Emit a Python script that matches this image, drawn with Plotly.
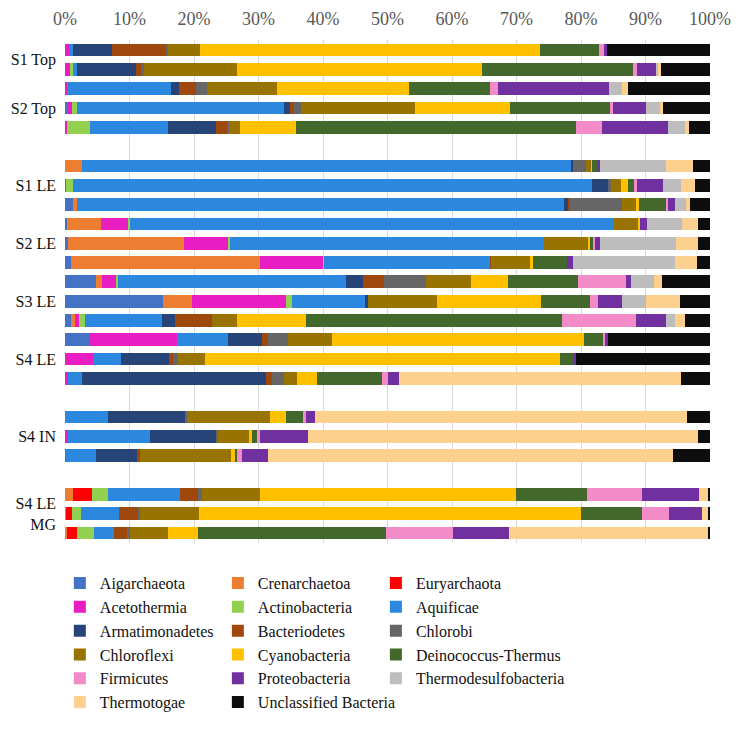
import plotly.graph_objects as go

# ---- data (percent of reads per sample bar, top to bottom) ----
groups = ["S1 Top", "S2 Top", "S1 LE", "S2 LE", "S3 LE", "S4 LE", "S4 IN", "S4 LE<br>MG"]
group_sizes = [2, 3, 3, 3, 3, 3, 3, 3]
gap_after = ["S2 Top", "S4 LE", "S4 IN"]

phyla = ["Aigarchaeota", "Crenarchaetoa", "Euryarchaota", "Acetothermia", "Actinobacteria",
         "Aquificae", "Armatimonadetes", "Bacteriodetes", "Chlorobi", "Chloroflexi",
         "Cyanobacteria", "Deinococcus-Thermus", "Firmicutes", "Proteobacteria",
         "Thermodesulfobacteria", "Thermotogae", "Unclassified Bacteria"]

aigarchaeota = [0, 0, 0, .3, 0, 0, .2, 1.2, .3, .4, .9, 4.8, 15.2, 1.0, 3.9, .2, .3, 0, 0, 0, 0, 0, 0]
crenarchaetoa = [0, 0, 0, 0, 0, 2.6, 0, .6, 5.3, 18.1, 29.4, 1.0, 4.5, .5, 0, 0, 0, 0, 0, 0, 1.3, .2, .3]
euryarchaota = [0, 0, 0, 0, 0, 0, 0, 0, 0, 0, 0, 0, 0, 0, 0, 0, 0, 0, 0, 0, 2.9, .9, 1.6]
acetothermia = [.9, .9, .3, .8, .3, 0, 0, 0, 4.2, 6.9, 9.8, 2.2, 14.6, .6, 13.5, 4.2, .2, 0, .4, .1, 0, 0, 0]
actinobacteria = [0, .3, 0, .7, 3.5, 0, 1.0, 0, .2, .2, .1, .2, .9, 1.0, 0, 0, 0, 0, 0, 0, 2.4, 1.4, 2.6]
aquificae = [.3, .6, 16.2, 32.1, 12.2, 75.9, 80.5, 75.6, 74.9, 48.6, 25.7, 35.3, 11.4, 11.9,
             7.9, 4.3, 2.2, 6.7, 12.7, 4.7, 11.2, 5.9, 3.1]
armatimonadetes = [6.1, 9.2, 1.1, 1.0, 7.4, .3, 2.5, .6, 0, 0, 0, 2.7, .3, 2.1, 5.2, 7.4, 28.5,
                   12.0, 10.4, 6.5, 0, 0, 0]
bacteriodetes = [8.3, .8, 2.7, .6, 1.8, 0, 0, .3, 0, 0, .2, 3.3, 0, 5.7, 1.0, .6, .9, 0, 0, .3, 2.8, 2.9, 2.0]
chlorobi = [.4, .4, 1.7, 1.1, .3, 2.0, .4, 8.1, 0, 0, 0, 6.4, 0, 0, 3.1, .8, 1.8, .2, .2, 0, .6, .4, .4]
chloroflexi = [5.0, 14.5, 10.9, 17.7, 1.7, .8, 1.6, 2.1, 4.0, 7.0, 6.1, 7.1, 10.8, 3.8, 6.8, 4.2, 2.0,
               12.9, 4.9, 14.1, 9.1, 9.1, 5.9]
cyanobacteria = [52.7, 38.0, 20.4, 14.7, 8.6, .1, 1.1, .5, .3, .2, .3, 5.7, 16.1, 10.7, 39.1, 55.1, 3.1,
                 2.5, .4, .7, 39.6, 59.2, 4.7]
deinococcus = [9.1, 23.4, 12.6, 15.5, 43.4, 1.0, .9, 4.3, 0, .6, 5.4, 10.9, 7.6, 39.7, 3.0, 2.2, 10.1,
               2.7, .7, .3, 11.0, 9.5, 29.2]
firmicutes = [.8, .6, 1.2, .5, 4.0, 0, .5, .2, 0, .2, 0, 7.3, 1.3, 11.5, .2, 0, .9, .3, .6, .7, 8.5, 4.1, 10.3]
proteobacteria = [.5, 3.0, 17.3, 5.0, 10.3, .2, 4.0, 1.0, 1.1, .8, .9, .8, 3.7, 4.6, .5, .3, 1.8,
                  1.5, 7.4, 4.1, 8.9, 5.1, 8.7]
thermodesulfobacteria = [0, .3, 1.9, 2.4, 2.7, 10.3, 2.8, 1.8, 5.4, 11.8, 15.7, 3.6, 3.7, 1.4, 0, 0, 0,
                         0, 0, 0, 0, 0, 0]
thermotogae = [0, .4, 1.0, .3, .5, 4.2, 2.1, .6, 2.5, 3.4, 3.5, 1.2, 5.2, 1.6, 0, 0, 43.7,
               57.7, 60.5, 62.8, 1.4, 1.1, 30.9]
unclassified = [15.9, 7.6, 12.7, 7.3, 3.3, 2.6, 2.4, 3.1, 1.8, 1.8, 2.0, 7.5, 4.7, 3.9, 15.8, 20.7, 4.5,
                3.5, 1.8, 5.7, .3, .2, .3]

series = [aigarchaeota, crenarchaetoa, euryarchaota, acetothermia, actinobacteria, aquificae,
          armatimonadetes, bacteriodetes, chlorobi, chloroflexi, cyanobacteria, deinococcus,
          firmicutes, proteobacteria, thermodesulfobacteria, thermotogae, unclassified]

x_ticks = [0, 10, 20, 30, 40, 50, 60, 70, 80, 90, 100]

colors = ["#4472C4", "#ED7D31", "#FF0000", "#E81EC2", "#92D050", "#2B88DE", "#264478", "#9E480E",
          "#666666", "#997300", "#FFC000", "#43682B", "#F38BC9", "#7030A0", "#BDBDBD", "#FDD18D",
          "#0D0D0D"]

# ---- bar positions from group structure ----
ypos = []
tickvals = []
slot = 0
for g, n in zip(groups, group_sizes):
    pos = list(range(slot, slot + n))
    ypos += pos
    tickvals.append(sum(pos) / n)
    slot += n
    if g in gap_after:
        slot += 1

legend_ids = ["legend", "legend2", "legend3"]

fig = go.Figure()
for i, (name, vals, col) in enumerate(zip(phyla, series, colors)):
    fig.add_trace(go.Bar(
        x=vals, y=ypos, orientation="h", name=name,
        marker=dict(color=col, line=dict(width=0)), width=0.66,
        legend=legend_ids[i % 3],
    ))

font_family = "Liberation Serif, Times New Roman, serif"
legend_font = dict(family=font_family, size=16, color="#111111")
legend_common = dict(orientation="v", xanchor="left", yanchor="top", y=-0.046,
                     font=legend_font, traceorder="normal", bgcolor="rgba(0,0,0,0)",
                     itemwidth=30)

fig.update_layout(
    barmode="stack",
    width=750, height=741,
    margin=dict(l=57, r=48, t=32, b=206, autoexpand=False),
    paper_bgcolor="white", plot_bgcolor="white",
    font=dict(family=font_family, color="#111111"),
    showlegend=True,
    legend=dict(x=-0.008, **legend_common),
    legend2=dict(x=0.237, **legend_common),
    legend3=dict(x=0.482, **legend_common),
    xaxis=dict(
        side="top", range=[0, 100], tickvals=x_ticks, ticktext=[f"{v}%" for v in x_ticks],
        showgrid=True, gridcolor="#D9D9D9", gridwidth=1, zeroline=False, showline=False,
        tickfont=dict(family=font_family, size=18, color="#595959"),
        automargin=False, ticklabelstandoff=10,
    ),
    yaxis=dict(
        range=[ypos[-1] + 0.52, -0.52], tickvals=tickvals, ticktext=groups,
        showgrid=False, zeroline=False, showline=False, ticklabelstandoff=8,
        tickfont=dict(family=font_family, size=16, color="#111111"),
        automargin=False,
    ),
)

fig.write_html("out.html")
